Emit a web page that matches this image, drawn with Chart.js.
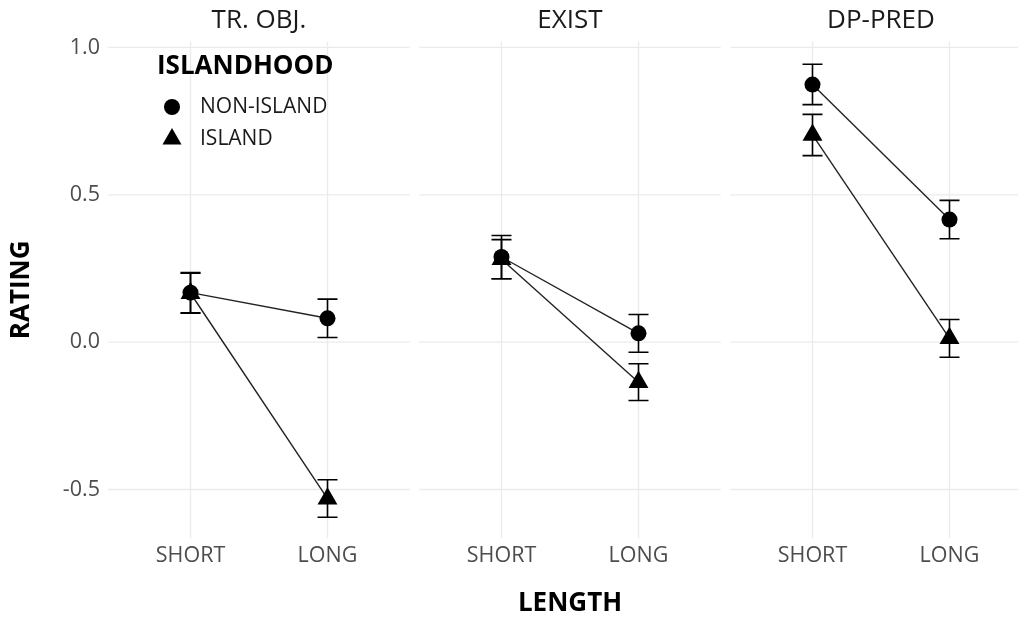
<!DOCTYPE html>
<html>
<head>
<meta charset="utf-8">
<script src="https://cdn.jsdelivr.net/npm/chart.js@4/dist/chart.umd.min.js"></script>
<style>
  html, body { margin: 0; padding: 0; background: #ffffff; }
  canvas { display: block; }
</style>
</head>
<body>
<canvas id="chart" width="1019" height="617"></canvas>
<script>
// Facets, categories and tick labels
const panels = ['TR. OBJ.', 'EXIST', 'DP-PRED'];
const lengths = ['SHORT', 'LONG'];
const yTicks = [-0.5, 0, 0.5, 1.0];
const seriesNames = ['NON-ISLAND', 'ISLAND'];

// Mean rating per facet: [SHORT, LONG]
const nonIslandMean = [[0.168, 0.081], [0.289, 0.030], [0.874, 0.416]];
const nonIslandLow  = [[0.100, 0.016], [0.215, -0.034], [0.806, 0.351]];
const nonIslandHigh = [[0.236, 0.146], [0.362, 0.094], [0.943, 0.481]];

const islandMean = [[0.166, -0.531], [0.281, -0.136], [0.703, 0.013]];
const islandLow  = [[0.098, -0.594], [0.215, -0.198], [0.633, -0.051]];
const islandHigh = [[0.234, -0.467], [0.348, -0.073], [0.773, 0.077]];

// Facet layout in x-scale units: each facet spans 0.4..2.6 around its categories
const FACET_STEP = 2.27;
const FACET_LO = 0.4, FACET_HI = 2.6;
const X_MIN = 0.4, X_MAX = 7.04;
const Y_MIN = -0.6645, Y_MAX = 1.0195;

const FONT = '"Open Sans", "Noto Sans", sans-serif';

const series = [
  { name: seriesNames[1], mean: islandMean, low: islandLow, high: islandHigh, style: 'triangle', radius: 11.5 },
  { name: seriesNames[0], mean: nonIslandMean, low: nonIslandLow, high: nonIslandHigh, style: 'circle', radius: 8 }
];

const catX = (p, c) => p * FACET_STEP + 1 + c;

const datasets = [];
series.forEach((s, si) => {
  panels.forEach((name, p) => {
    datasets.push({
      label: s.name + ' ' + name,
      data: lengths.map((l, c) => ({ x: catX(p, c), y: s.mean[p][c] })),
      borderColor: '#222222',
      borderWidth: 1.4,
      pointStyle: s.style,
      pointRadius: s.radius,
      pointHoverRadius: s.radius,
      pointBackgroundColor: '#000000',
      pointBorderColor: '#000000',
      pointBorderWidth: 0,
      tension: 0,
      fill: false,
      order: si
    });
  });
});

// Panel grid with gaps between facets
const gridPlugin = {
  id: 'facetGrid',
  beforeDatasetsDraw(chart) {
    const { ctx, chartArea, scales: { x, y } } = chart;
    ctx.save();
    ctx.strokeStyle = '#ebebeb';
    ctx.lineWidth = 1.3;
    panels.forEach((name, p) => {
      const x0 = Math.max(x.getPixelForValue(p * FACET_STEP + FACET_LO), chartArea.left);
      const x1 = Math.min(x.getPixelForValue(p * FACET_STEP + FACET_HI), chartArea.right);
      yTicks.forEach(t => {
        const py = y.getPixelForValue(t);
        ctx.beginPath(); ctx.moveTo(x0, py); ctx.lineTo(x1, py); ctx.stroke();
      });
      lengths.forEach((l, c) => {
        const px = x.getPixelForValue(catX(p, c));
        ctx.beginPath(); ctx.moveTo(px, chartArea.top); ctx.lineTo(px, chartArea.bottom); ctx.stroke();
      });
    });
    ctx.restore();
  }
};

// Error bars (mean ± interval) drawn beneath the points
const errorBarPlugin = {
  id: 'errorBars',
  beforeDatasetsDraw(chart) {
    const { ctx, scales: { x, y } } = chart;
    const half = 10;
    ctx.save();
    ctx.strokeStyle = '#000000';
    ctx.lineWidth = 1.6;
    series.slice().reverse().forEach(s => {
      panels.forEach((name, p) => {
        lengths.forEach((l, c) => {
          const px = x.getPixelForValue(catX(p, c));
          const lo = y.getPixelForValue(s.low[p][c]);
          const hi = y.getPixelForValue(s.high[p][c]);
          ctx.beginPath();
          ctx.moveTo(px, lo); ctx.lineTo(px, hi);
          ctx.moveTo(px - half, lo); ctx.lineTo(px + half, lo);
          ctx.moveTo(px - half, hi); ctx.lineTo(px + half, hi);
          ctx.stroke();
        });
      });
    });
    ctx.restore();
  }
};

// Strip titles, axis labels, axis titles and legend
const textPlugin = {
  id: 'facetText',
  afterDraw(chart) {
    const { ctx, chartArea, scales: { x, y } } = chart;
    ctx.save();
    ctx.textBaseline = 'middle';

    // facet strip titles
    ctx.fillStyle = '#1a1a1a';
    ctx.font = '26px ' + FONT;
    ctx.textAlign = 'center';
    panels.forEach((name, p) => {
      ctx.fillText(name, x.getPixelForValue(p * FACET_STEP + 1.5), 21);
    });

    // x tick labels
    ctx.fillStyle = '#4d4d4d';
    ctx.font = '21.5px ' + FONT;
    panels.forEach((name, p) => {
      lengths.forEach((l, c) => {
        ctx.fillText(l, x.getPixelForValue(catX(p, c)), 556);
      });
    });

    // y tick labels
    ctx.textAlign = 'right';
    yTicks.forEach(t => {
      ctx.fillText(t.toFixed(1), 100, y.getPixelForValue(t));
    });

    // axis titles
    ctx.fillStyle = '#000000';
    ctx.font = 'bold 26px ' + FONT;
    ctx.textAlign = 'center';
    ctx.fillText('LENGTH', (x.getPixelForValue(FACET_LO) + x.getPixelForValue(2 * FACET_STEP + FACET_HI)) / 2, 604);
    ctx.save();
    ctx.translate(22, (chartArea.top + chartArea.bottom) / 2);
    ctx.rotate(-Math.PI / 2);
    ctx.fillText('RATING', 0, 0);
    ctx.restore();

    // legend
    ctx.textAlign = 'left';
    ctx.font = 'bold 26px ' + FONT;
    ctx.fillText('ISLANDHOOD', 157, 67);
    ctx.font = '21px ' + FONT;
    const legendRows = [
      { text: seriesNames[0], style: 'circle', radius: 8, y: 107 },
      { text: seriesNames[1], style: 'triangle', radius: 11, y: 139 }
    ];
    legendRows.forEach(r => {
      ctx.fillStyle = '#000000';
      ctx.strokeStyle = '#000000';
      Chart.helpers.drawPoint(ctx, { pointStyle: r.style, radius: r.radius, borderWidth: 0 }, 172, r.y);
      ctx.fillStyle = '#1a1a1a';
      ctx.fillText(r.text, 200, r.y);
    });
    ctx.restore();
  }
};

new Chart(document.getElementById('chart'), {
  type: 'line',
  data: { datasets },
  options: {
    responsive: false,
    animation: false,
    layout: { autoPadding: false, padding: { left: 108.3, right: 1, top: 41.7, bottom: 79 } },
    plugins: { legend: { display: false }, tooltip: { enabled: false } },
    scales: {
      x: { type: 'linear', min: X_MIN, max: X_MAX, display: false },
      y: { type: 'linear', min: Y_MIN, max: Y_MAX, display: false }
    },
    elements: { line: { clip: false } }
  },
  plugins: [gridPlugin, errorBarPlugin, textPlugin]
});
</script>
</body>
</html>
